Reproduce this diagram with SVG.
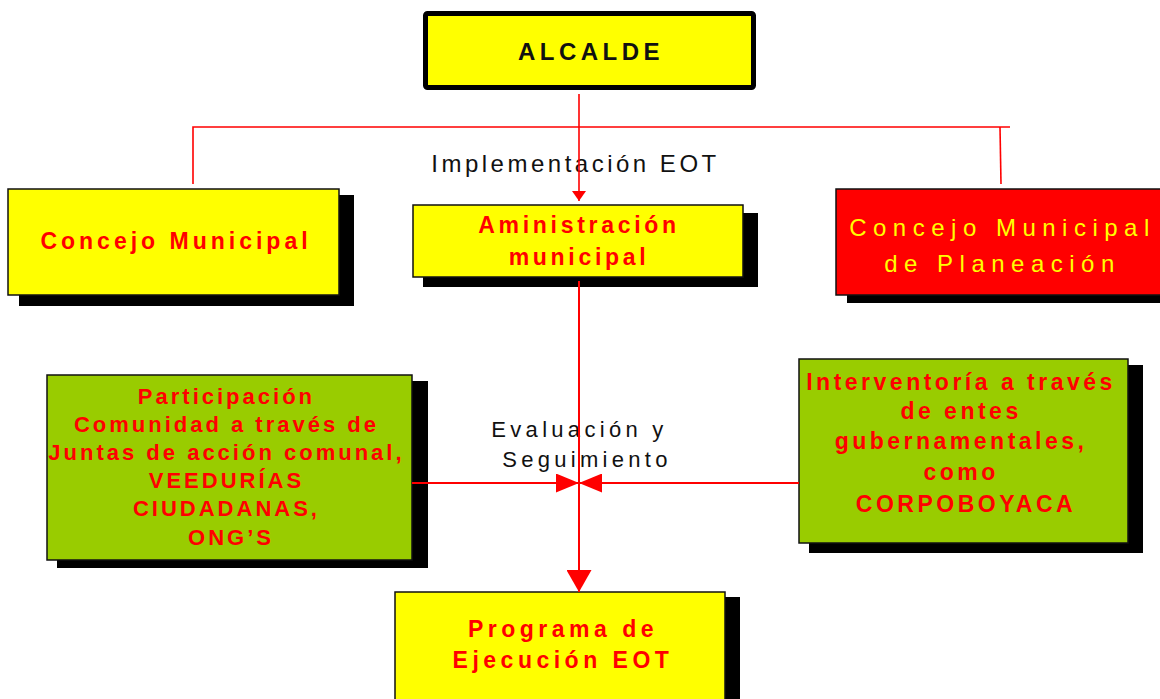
<svg xmlns="http://www.w3.org/2000/svg" width="1160" height="699" viewBox="0 0 1160 699">
<style>
.box{stroke:#111;stroke-width:1.5}
.y{fill:#FFFF00}
.r{fill:#FF0000}
.g{fill:#99CC00}
.sh{fill:#000}
.t{font-family:"Liberation Sans",Arial,sans-serif;text-anchor:middle}
.b{font-weight:bold}
.red{fill:#FF0000}
.blk{fill:#111}
.yel{fill:#FFFF00}
.ln{stroke:#FF0000;fill:none;stroke-width:2}
</style>
<defs>
<marker id="aS" viewBox="0 0 10 14" refX="10" refY="7" markerWidth="10" markerHeight="14" markerUnits="userSpaceOnUse" orient="auto"><path d="M0,0 L10,7 L0,14 z" fill="#FF0000"/></marker>
<marker id="aM" viewBox="0 0 23 19" refX="23" refY="9.5" markerWidth="23" markerHeight="19" markerUnits="userSpaceOnUse" orient="auto"><path d="M0,0 L23,9.5 L0,19 z" fill="#FF0000"/></marker>
<marker id="aL" viewBox="0 0 22 25" refX="22" refY="12.5" markerWidth="22" markerHeight="25" markerUnits="userSpaceOnUse" orient="auto"><path d="M0,0 L22,12.5 L0,25 z" fill="#FF0000"/></marker>
</defs>
<rect width="1160" height="699" fill="#fff"/>
<g id="alcalde">
<rect x="425.5" y="13.5" width="328" height="74" rx="2" class="y" stroke="#000" stroke-width="5"/>
<text class="t b blk" x="591" y="60" font-size="24" letter-spacing="4.5">ALCALDE</text>
</g>
<g id="concejo">
<rect x="19" y="195" width="335" height="111" class="sh"/>
<rect x="8" y="189" width="331" height="106" class="box y"/>
<text class="t b red" x="176" y="249" font-size="23" letter-spacing="4">Concejo Municipal</text>
</g>
<g id="aministracion">
<rect x="423" y="213" width="335" height="74" class="sh"/>
<rect x="413" y="205" width="330" height="72" class="box y"/>
<text class="t b red" x="579" y="233" font-size="23" letter-spacing="3.7">Aministración</text>
<text class="t b red" x="579" y="265" font-size="23" letter-spacing="3.7">municipal</text>
</g>
<g id="planeacion">
<rect x="847" y="197" width="330" height="106" class="sh"/>
<rect x="836" y="189" width="327" height="106" class="box r"/>
<text class="t yel" x="1002.5" y="236" font-size="24" letter-spacing="6.5">Concejo Municipal</text>
<text class="t yel" x="1002.5" y="272" font-size="24" letter-spacing="6.5">de Planeación</text>
</g>
<g id="participacion">
<rect x="57" y="381" width="371" height="187" class="sh"/>
<rect x="47" y="375" width="365" height="185" class="box g"/>
<text class="t b red" font-size="22" letter-spacing="3">
<tspan x="231" y="404">Participación</tspan>
<tspan x="231" y="432">Comunidad a través de</tspan>
<tspan x="231" y="460">Juntas de acción comunal,</tspan>
<tspan x="231" y="488">VEEDURÍAS</tspan>
<tspan x="231" y="516">CIUDADANAS,</tspan>
<tspan x="231" y="545">ONG’S</tspan>
</text>
</g>
<g id="interventoria">
<rect x="809" y="365" width="334" height="188" class="sh"/>
<rect x="799" y="359" width="329" height="184" class="box g"/>
<text class="t b red" font-size="23" letter-spacing="3.5">
<tspan x="966" y="390">Interventoría a través</tspan>
<tspan x="966" y="419">de entes</tspan>
<tspan x="966" y="449">gubernamentales,</tspan>
<tspan x="966" y="480">como</tspan>
<tspan x="966" y="512">CORPOBOYACA</tspan>
</text>
</g>
<g id="programa">
<rect x="405" y="597" width="335" height="120" class="sh"/>
<rect x="395" y="592" width="330" height="120" class="box y"/>
<text class="t b red" x="563" y="637" font-size="23" letter-spacing="4.5">Programa de</text>
<text class="t b red" x="563" y="668" font-size="23" letter-spacing="4.5">Ejecución EOT</text>
</g>
<g id="labels">
<text class="t blk" x="575.5" y="172" font-size="24" letter-spacing="3.5">Implementación EOT</text>
<text class="t blk" x="579.5" y="437" font-size="22" letter-spacing="4.3">Evaluación y</text>
<text class="t blk" x="587" y="467" font-size="22" letter-spacing="4.3">Seguimiento</text>
</g>
<g id="connectors">
<path class="ln" style="stroke-width:1.6" d="M193,184 L193,127 L1010,127"/>
<path class="ln" style="stroke-width:1.6" d="M1000,127 L1001,184"/>
<path class="ln" style="stroke-width:1.6" d="M579,94 L579,201" marker-end="url(#aS)"/>
<path class="ln" d="M579,281 L579,592" marker-end="url(#aL)"/>
<path class="ln" d="M412,483 L579,483" marker-end="url(#aM)"/>
<path class="ln" d="M799,483 L579,483" marker-end="url(#aM)"/>
</g>
</svg>
